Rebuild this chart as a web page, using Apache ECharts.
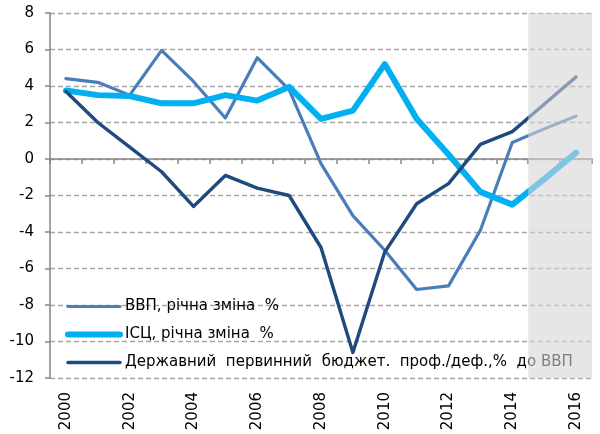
<!DOCTYPE html>
<html>
<head>
    <meta charset="utf-8">
    <title>ВВП, ІСЦ, бюджет</title>
    <script src="https://cdn.jsdelivr.net/npm/echarts@6/dist/echarts.min.js"></script>
    <style>
        html, body { margin: 0; padding: 0; background: #fff; }
        #chart1 { width: 600px; height: 434px; }
    </style>
</head>
<body>
<div id="chart1"></div>
<script type="text/javascript">
    // роки
    var years = ['2000', '2001', '2002', '2003', '2004', '2005', '2006', '2007', '2008',
        '2009', '2010', '2011', '2012', '2013', '2014', '2015', '2016'];
    // ВВП, річна зміна %
    var gdp = [4.4, 4.2, 3.5, 5.95, 4.25, 2.25, 5.55, 3.8, -0.25, -3.1, -5.0, -7.15, -6.95, -3.9, 0.9, 1.65, 2.35];
    // ІСЦ, річна зміна %
    var cpi = [3.75, 3.5, 3.45, 3.05, 3.05, 3.5, 3.2, 3.95, 2.2, 2.65, 5.2, 2.2, 0.25, -1.8, -2.5, -1.1, 0.35];
    // первинний баланс бюджету, % до ВВП
    var budget = [3.7, 2.0, 0.65, -0.7, -2.6, -0.9, -1.6, -2.0, -4.85, -10.6, -5.1, -2.45, -1.35, 0.8, 1.5, 3.0, 4.5];
    // прогнозні роки (сіра зона)
    var forecast = ['2015', '2016'];

    var names = ['ВВП, річна зміна  %', 'ІСЦ, річна зміна  %',
        'Державний  первинний  бюджет.  проф./деф.,%  до ВВП'];

    var font = 'DejaVu Sans';
    var myChart = echarts.init(document.getElementById('chart1'));

    myChart.setOption({
        animation: false,
        grid: { left: 50, right: 8, top: 13, bottom: 56, outerBoundsMode: 'none' },
        legend: {
            data: names,
            orient: 'vertical',
            left: 60,
            top: 294,
            itemWidth: 52,
            itemHeight: 14,
            itemGap: 13,
            itemStyle: { opacity: 0 },
            lineStyle: { width: 'inherit', cap: 'round' },
            textStyle: { fontSize: 15, fontFamily: font, color: '#000' }
        },
        xAxis: [{
            type: 'category',
            data: years,
            boundaryGap: true,
            position: 'bottom',
            axisLine: { show: false, onZero: false },
            axisTick: { show: false },
            splitLine: { show: false },
            axisLabel: { rotate: 90, interval: 1, margin: 14, fontSize: 15, fontFamily: font, color: '#000' }
        }, {
            type: 'category',
            data: years,
            boundaryGap: true,
            position: 'bottom',
            axisLine: { show: true, onZero: true, lineStyle: { color: '#868686', width: 1.5 } },
            axisTick: { show: true, interval: 0, length: 5, lineStyle: { color: '#868686', width: 1.5 } },
            axisLabel: { show: false },
            splitLine: { show: false }
        }],
        yAxis: {
            type: 'value',
            min: -12,
            max: 8,
            interval: 2,
            axisLine: { show: true, lineStyle: { color: '#868686', width: 1.5 } },
            axisTick: { show: true, length: 5, lineStyle: { color: '#868686', width: 1.5 } },
            axisLabel: { margin: 16, fontSize: 15, fontFamily: font, color: '#000' },
            splitLine: { show: true, lineStyle: { color: '#a6a6a6', width: 1.3, type: [5, 3] } }
        },
        series: [{
            name: names[0],
            type: 'line',
            data: gdp,
            symbol: 'none',
            color: '#4a7ebb',
            lineStyle: { width: 3.2, color: '#4a7ebb', cap: 'round', join: 'round' }
        }, {
            name: names[1],
            type: 'line',
            data: cpi,
            symbol: 'none',
            color: '#00b0f0',
            lineStyle: { width: 6, color: '#00b0f0', cap: 'round', join: 'round' }
        }, {
            name: names[2],
            type: 'line',
            data: budget,
            symbol: 'none',
            color: '#1f4a7e',
            lineStyle: { width: 3.4, color: '#1f4a7e', cap: 'round', join: 'round' }
        }, {
            // сіра зона прогнозу поверх ліній і легенди
            type: 'custom',
            silent: true,
            z: 6,
            data: [[years.indexOf(forecast[0]), years.indexOf(forecast[forecast.length - 1])]],
            renderItem: function (params, api) {
                var start = api.coord([api.value(0), 0]);
                var end = api.coord([api.value(1), 0]);
                var band = api.size([1, 0])[0];
                var cs = params.coordSys;
                return {
                    type: 'rect',
                    shape: { x: start[0] - band / 2, y: cs.y, width: end[0] - start[0] + band, height: cs.height },
                    style: { fill: 'rgba(213,213,213,0.59)' }
                };
            }
        }]
    });
</script>
</body>
</html>
